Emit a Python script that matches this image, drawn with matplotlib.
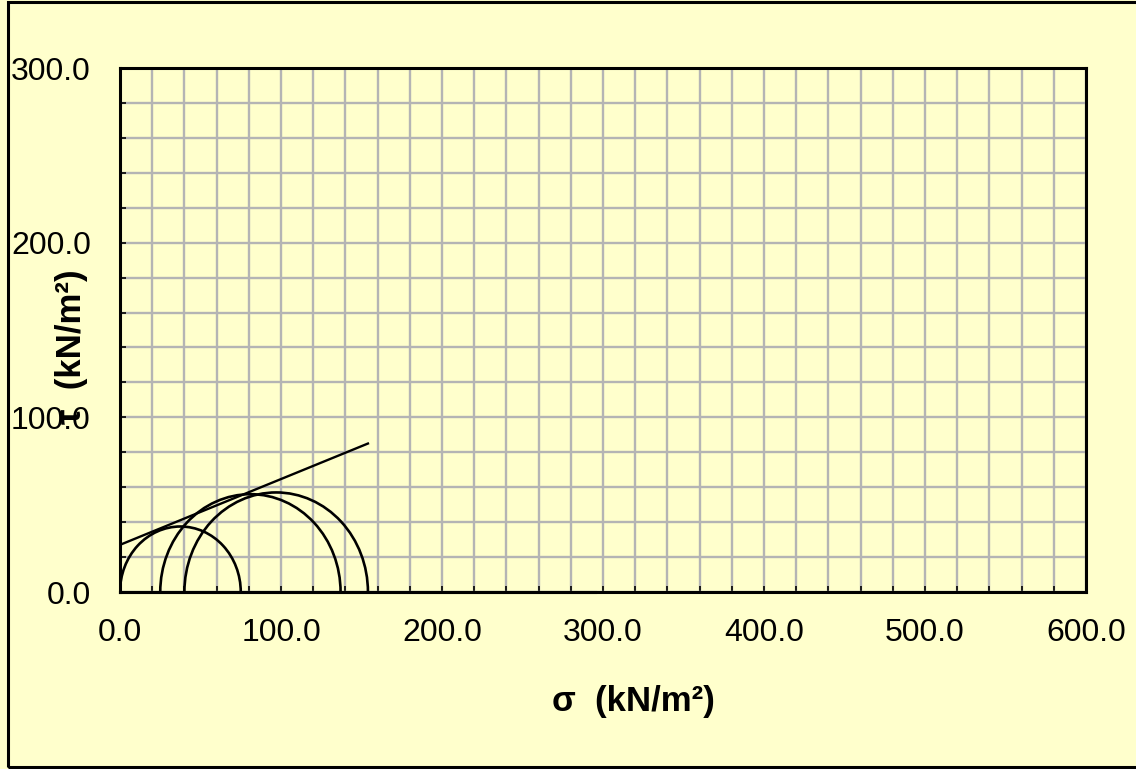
import matplotlib.pyplot as plt
from matplotlib.patches import Arc, Rectangle
from matplotlib.ticker import MultipleLocator, FormatStrFormatter

# principal stresses of the three tests (sigma3, sigma1), kN/m2
sigma3 = [0.0, 25.0, 40.0]
sigma1 = [75.0, 137.0, 154.0]

# failure envelope end points
env_sigma = [0.0, 154.0]
env_tau = [27.0, 85.0]

# sigma axis line drawn with the circles
base_sigma = [0.0, 295.0]
base_tau = [0.0, 0.0]

bg = "#FFFFCC"
plt.rcParams["font.family"] = ["Liberation Sans", "DejaVu Sans"]

fig = plt.figure(figsize=(11.36, 7.69), dpi=100, facecolor=bg)
ax = fig.add_axes([120 / 1136, 1 - 592 / 769, 966 / 1136, 524 / 769])
ax.set_facecolor(bg)

# outer chart frame
fig.patches.append(Rectangle((8 / 1136, 2 / 769), 1.2, 765 / 769,
                             transform=fig.transFigure, fill=False,
                             edgecolor="black", linewidth=2.2, zorder=0))

for s3, s1 in zip(sigma3, sigma1):
    c = (s1 + s3) / 2
    d = s1 - s3
    ax.add_patch(Arc((c, 0), d, d, theta1=0, theta2=180,
                     color="black", linewidth=1.9, zorder=3))

ax.plot(env_sigma, env_tau, color="black", linewidth=1.7, zorder=3)
ax.plot(base_sigma, base_tau, color="black", linewidth=2.2, zorder=3,
        clip_on=False)

ax.set_xlim(0, 600)
ax.set_ylim(0, 300)
ax.xaxis.set_major_locator(MultipleLocator(100))
ax.yaxis.set_major_locator(MultipleLocator(100))
ax.xaxis.set_minor_locator(MultipleLocator(20))
ax.yaxis.set_minor_locator(MultipleLocator(20))
ax.xaxis.set_major_formatter(FormatStrFormatter("%.1f"))
ax.yaxis.set_major_formatter(FormatStrFormatter("%.1f"))

ax.grid(True, which="both", color="#B4B4B4", linewidth=1.7, zorder=1)
ax.set_axisbelow(True)
ax.tick_params(which="both", direction="in", color="black", width=1.2,
               top=False, right=False)
ax.tick_params(which="major", length=4, labelsize=23)
ax.tick_params(axis="x", which="major", pad=19)
ax.tick_params(axis="y", which="major", pad=21)
ax.tick_params(which="minor", length=4)
for sp in ax.spines.values():
    sp.set_linewidth(2.2)
    sp.set_zorder(4)

fig.text(633 / 1136, 1 - 702 / 769, "σ  (kN/m²)", fontsize=25,
         fontweight="bold", ha="center", va="center")
fig.text(72 / 1136, 1 - 347 / 769, "τ  (kN/m²)", fontsize=25,
         fontweight="bold", ha="center", va="center", rotation=90)

fig.savefig("out.png", dpi=100, facecolor=bg)
